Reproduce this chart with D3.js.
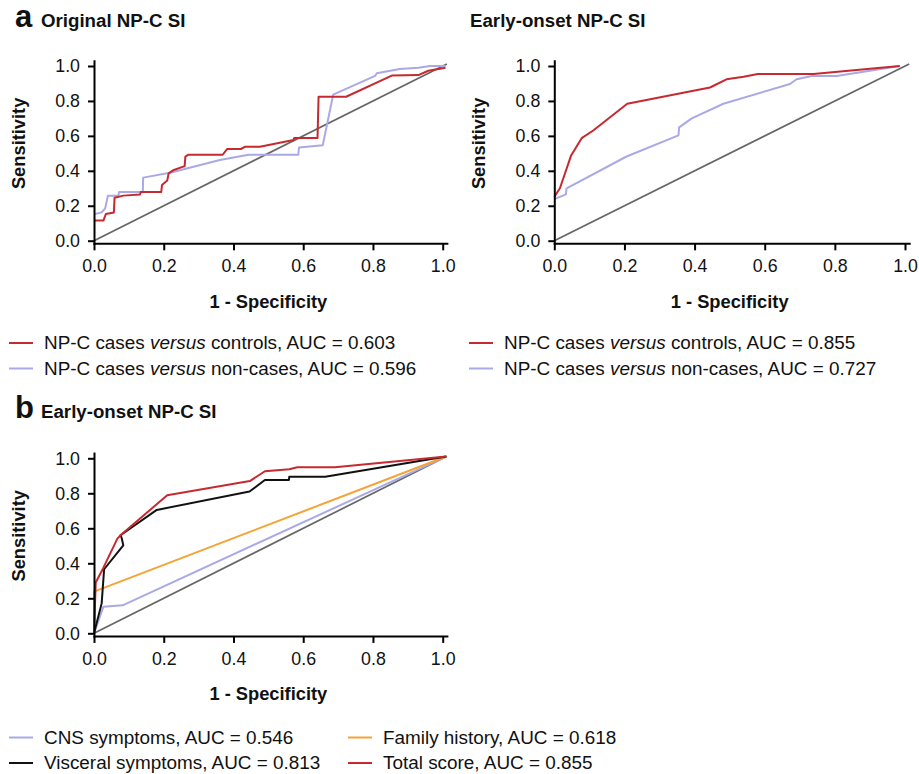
<!DOCTYPE html>
<html>
<head>
<meta charset="utf-8">
<script src="https://cdn.jsdelivr.net/npm/d3@7.9.0/dist/d3.min.js"></script>
<style>
  body { margin: 0; background: #fff; }
  svg { display: block; }
  text { font-family: "Liberation Sans", Arial, Helvetica, sans-serif; fill: #111; }
</style>
</head>
<body>
<svg id="chart" width="919" height="774"></svg>
<script>
// tick values shared by every axis
const ticks = [0, 0.2, 0.4, 0.6, 0.8, 1.0];

// ROC points: [1 - specificity, sensitivity]
// panel a, original NP-C SI
const origVsControls = [[0,0.115],[0.027,0.115],[0.034,0.153],[0.057,0.162],[0.059,0.246],[0.084,0.258],
  [0.132,0.265],[0.134,0.279],[0.193,0.279],[0.195,0.319],[0.21,0.344],[0.214,0.385],[0.229,0.405],
  [0.26,0.427],[0.262,0.481],[0.27,0.492],[0.369,0.492],[0.382,0.525],[0.421,0.525],[0.434,0.538],
  [0.476,0.538],[0.572,0.576],[0.574,0.588],[0.641,0.588],[0.644,0.824],[0.723,0.824],[0.854,0.945],
  [0.93,0.948],[0.959,0.973],[1.008,0.99]];
const origVsNonCases = [[0,0.151],[0.022,0.162],[0.032,0.185],[0.04,0.258],[0.07,0.258],[0.072,0.279],
  [0.14,0.279],[0.141,0.361],[0.218,0.389],[0.361,0.462],[0.443,0.492],[0.586,0.492],[0.588,0.534],
  [0.656,0.546],[0.686,0.836],[0.806,0.943],[0.811,0.958],[0.877,0.983],[0.93,0.99],[0.964,1.0],[1.008,1.0]];

// panel a, early-onset NP-C SI
const earlyVsControls = [[0,0.25],[0.016,0.3],[0.048,0.488],[0.078,0.587],[0.111,0.631],[0.208,0.784],
  [0.444,0.877],[0.491,0.924],[0.54,0.939],[0.58,0.954],[0.739,0.954],[0.985,1.0]];
const earlyVsNonCases = [[0,0.238],[0.033,0.265],[0.035,0.3],[0.206,0.482],[0.354,0.603],[0.356,0.649],
  [0.392,0.7],[0.482,0.784],[0.672,0.897],[0.691,0.924],[0.734,0.943],[0.805,0.943],[0.985,1.0]];

// panel b, early-onset NP-C SI by domain
const cnsSymptoms = [[0,0],[0.027,0.152],[0.082,0.16],[1.01,1.01]];
const familyHistory = [[0,0],[0,0.238],[1.01,1.01]];
const visceralSymptoms = [[0,0],[0.022,0.171],[0.029,0.366],[0.084,0.503],[0.079,0.547],[0.076,0.56],
  [0.18,0.705],[0.446,0.81],[0.49,0.876],[0.559,0.876],[0.56,0.895],[0.663,0.895],[1.01,1.01]];
const totalScore = [[0,0],[0.005,0.29],[0.027,0.375],[0.067,0.541],[0.076,0.56],[0.21,0.789],
  [0.447,0.87],[0.49,0.926],[0.56,0.937],[0.583,0.949],[0.691,0.949],[1.01,1.01]];

// reference diagonal
const chance = [[0,0],[1.012,1.012]];

const RED = "#c52a31", LAV = "#a9a9e6", ORANGE = "#f5a334", BLACK = "#111111", GREY = "#666666";

const svg = d3.select("#chart");

function drawPanel(p) {
  // domains run a touch past 0 and 1 so the axes overhang like the original
  const unitX = p.right - p.left, unitY = p.bottom - p.top;
  const x = d3.scaleLinear().domain([0, 1.012]).range([p.left, p.left + 1.012 * unitX]);
  const y = d3.scaleLinear().domain([-0.015, 1.03]).range([p.bottom + 0.015 * unitY, p.bottom - 1.03 * unitY]);
  const fmt = d3.format(".1f");

  const g = svg.append("g");

  // title
  if (p.letter) {
    g.append("text").attr("x", p.titleX - 26).attr("y", p.titleY)
      .style("font-size", "31px").style("font-weight", "bold").text(p.letter);
  }
  g.append("text").attr("x", p.titleX).attr("y", p.titleY)
    .style("font-size", "18.7px").style("font-weight", "bold").text(p.title);

  // diagonal + curves
  const line = d3.line().x(d => x(d[0])).y(d => y(d[1]));
  g.append("path").datum(chance).attr("d", line)
    .attr("fill", "none").attr("stroke", GREY).attr("stroke-width", 1.7);
  p.series.forEach(s => {
    g.append("path").datum(s.data).attr("d", line)
      .attr("fill", "none").attr("stroke", s.color).attr("stroke-width", 2)
      .attr("stroke-linejoin", "round");
  });

  // axes
  const xAxis = g.append("g").attr("transform", `translate(0,${y(-0.015)})`)
    .call(d3.axisBottom(x).tickValues(ticks).tickFormat(fmt).tickSize(7).tickPadding(9).tickSizeOuter(0));
  const yAxis = g.append("g").attr("transform", `translate(${x(0)},0)`)
    .call(d3.axisLeft(y).tickValues(ticks).tickFormat(fmt).tickSize(6).tickPadding(8).tickSizeOuter(0));
  [xAxis, yAxis].forEach(a => {
    a.select(".domain").attr("stroke", "#000").attr("stroke-width", 2).attr("stroke-linecap", "square");
    a.selectAll(".tick line").attr("stroke", "#000").attr("stroke-width", 2);
    a.selectAll(".tick text").style("font-size", "17.8px").attr("fill", "#111")
      .style("font-family", "'Liberation Sans', Arial, sans-serif");
  });

  // axis titles
  g.append("text").attr("x", (p.left + p.right) / 2).attr("y", p.bottom + 67)
    .attr("text-anchor", "middle").style("font-size", "18.3px").style("font-weight", "bold")
    .text("1 - Specificity");
  g.append("text")
    .attr("transform", `translate(${p.left - 69},${(p.top + p.bottom) / 2 - 10}) rotate(-90)`)
    .attr("text-anchor", "middle").style("font-size", "18.3px").style("font-weight", "bold")
    .text("Sensitivity");
}

function drawLegend(items) {
  items.forEach(it => {
    svg.append("line").attr("x1", it.x).attr("x2", it.x + 24).attr("y1", it.y).attr("y2", it.y)
      .attr("stroke", it.color).attr("stroke-width", 2);
    const t = svg.append("text").attr("x", it.x + 35).attr("y", it.y + 6).style("font-size", "18.9px");
    t.append("tspan").text(it.pre);
    if (it.it) {
      t.append("tspan").style("font-style", "italic").text(it.it);
      t.append("tspan").text(it.post);
    }
  });
}

drawPanel({ left: 94, right: 442.7, top: 66, bottom: 240.7,
  letter: "a", title: "Original NP-C SI", titleX: 41, titleY: 27,
  series: [{ data: origVsNonCases, color: LAV }, { data: origVsControls, color: RED }] });

drawPanel({ left: 554.3, right: 905, top: 66, bottom: 240.7,
  title: "Early-onset NP-C SI", titleX: 470, titleY: 27,
  series: [{ data: earlyVsNonCases, color: LAV }, { data: earlyVsControls, color: RED }] });

drawPanel({ left: 94, right: 442.7, top: 458.3, bottom: 633.3,
  letter: "b", title: "Early-onset NP-C SI", titleX: 41, titleY: 418,
  series: [{ data: cnsSymptoms, color: LAV }, { data: familyHistory, color: ORANGE },
           { data: visceralSymptoms, color: BLACK }, { data: totalScore, color: RED }] });

drawLegend([
  { x: 9, y: 343, color: RED, pre: "NP-C cases ", it: "versus", post: " controls, AUC = 0.603" },
  { x: 9, y: 368.5, color: LAV, pre: "NP-C cases ", it: "versus", post: " non-cases, AUC = 0.596" },
  { x: 469, y: 343, color: RED, pre: "NP-C cases ", it: "versus", post: " controls, AUC = 0.855" },
  { x: 469, y: 368.5, color: LAV, pre: "NP-C cases ", it: "versus", post: " non-cases, AUC = 0.727" },
  { x: 9, y: 737.5, color: LAV, pre: "CNS symptoms, AUC = 0.546" },
  { x: 9, y: 763, color: BLACK, pre: "Visceral symptoms, AUC = 0.813" },
  { x: 348, y: 737.5, color: ORANGE, pre: "Family history, AUC = 0.618" },
  { x: 348, y: 763, color: RED, pre: "Total score, AUC = 0.855" }
]);
</script>
</body>
</html>
